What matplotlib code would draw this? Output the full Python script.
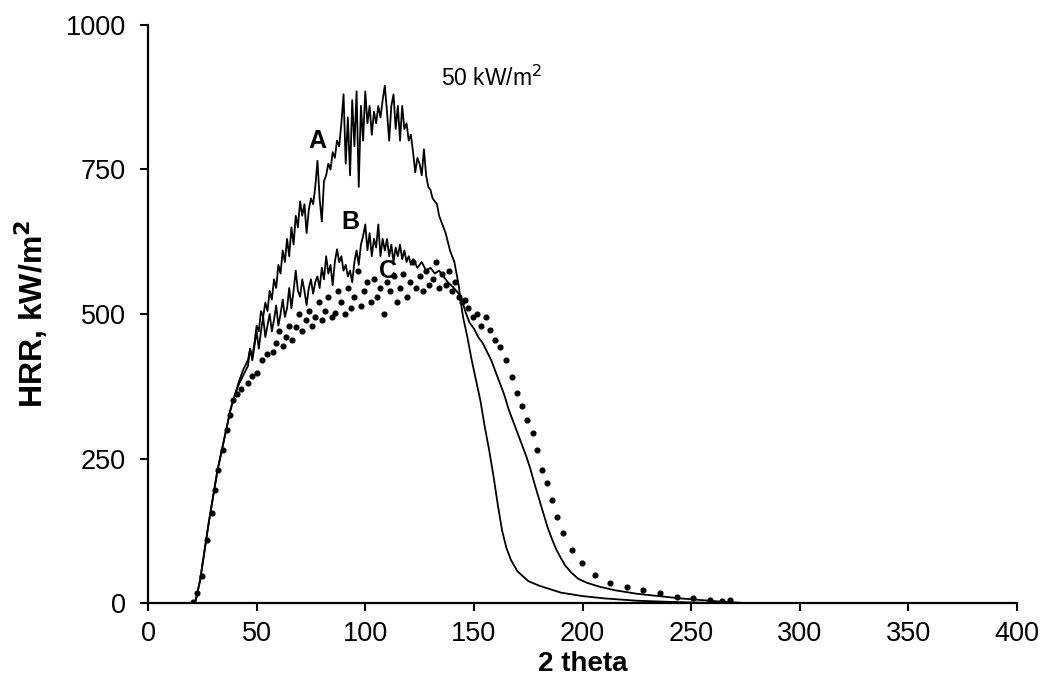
import numpy as np
import matplotlib
matplotlib.use("Agg")
import matplotlib.pyplot as plt

# curve A (solid, highest peak)
a_x = [0, 21, 22, 24, 26, 28, 30, 32, 34, 36, 38, 40, 42, 44, 46, 47, 48, 49, 50,
       51, 52, 53, 54, 55, 56, 57, 58, 59, 60, 61, 62, 63, 64, 65, 66, 67, 68, 69, 70,
       71, 72, 73, 74, 75, 76, 77, 78, 79, 80, 81, 82, 83, 84, 85, 86, 87, 88, 89, 90,
       91, 92, 93, 94, 95, 96, 97, 98, 99, 100, 101, 102, 103, 104, 105, 106, 107, 108,
       109, 110, 111, 112, 113, 114, 115, 116, 117, 118, 119, 120, 121, 122, 123, 124,
       125, 126, 127, 128, 129, 130, 131, 132, 133, 134, 135, 136, 137, 138, 139, 140,
       141, 142, 143, 144, 145, 147, 149, 151, 153, 155, 157, 159, 161, 163, 165, 167,
       170, 175, 180, 190, 200, 210, 225, 240, 260, 400]
a_y = [0, 0, 5, 40, 90, 140, 185, 230, 265, 300, 335, 360, 385, 405, 420, 440, 425, 450, 480,
       470, 505, 495, 520, 505, 540, 525, 560, 545, 585, 570, 610, 590, 630, 600, 650, 620, 670, 650, 695,
       670, 690, 640, 680, 700, 690, 720, 765, 700, 660, 730, 740, 760, 750, 780, 770, 800, 790, 830, 880,
       760, 840, 740, 870, 790, 885, 720, 860, 800, 885, 830, 860, 810, 850, 830, 860, 840, 870,
       895, 850, 800, 860, 880, 820, 860, 800, 860, 820, 830, 800, 810, 780, 745, 770,
       760, 740, 785, 740, 720, 715, 700, 695, 690, 670, 660, 650, 640, 625, 610, 600,
       590, 570, 550, 520, 495, 460, 420, 385, 350, 305, 265, 220, 170, 125, 95, 75,
       55, 38, 30, 18, 12, 8, 4, 2, 0, 0]

# curve B (solid, middle)
b_x = [0, 21, 22, 24, 26, 28, 30, 32, 34, 36, 38, 40, 42, 44, 46, 47, 48, 49, 50,
       51, 52, 53, 54, 55, 56, 57, 58, 59, 60, 61, 62, 63, 64, 65, 66, 67, 68, 69, 70,
       71, 72, 73, 74, 75, 76, 77, 78, 79, 80, 81, 82, 83, 84, 85, 86, 87, 88, 89, 90,
       91, 92, 93, 94, 95, 96, 97, 98, 99, 100, 101, 102, 103, 104, 105, 106, 107, 108,
       109, 110, 111, 112, 113, 114, 115, 116, 117, 118, 119, 120, 121, 122, 124, 126,
       128, 130, 132, 134, 136, 138, 140, 142, 144, 146, 148, 150, 152, 154, 156, 158,
       160, 162, 164, 166, 168, 170, 172, 174, 176, 178, 180, 182, 184, 186, 188, 190,
       192, 195, 198, 202, 208, 215, 225, 235, 245, 255, 265, 275, 400]
b_y = [0, 0, 5, 40, 90, 140, 185, 230, 265, 300, 335, 360, 380, 395, 410, 440, 420, 445, 470,
       440, 470, 495, 460, 480, 500, 470, 490, 515, 480, 500, 525, 495, 510, 545, 510, 540, 575, 540, 530,
       560, 540, 515, 545, 560, 535, 555, 565, 545, 580, 560, 600, 570, 585, 550, 590, 612, 590, 600, 575,
       585, 565, 575, 555, 590, 610, 585, 620, 635, 655, 610, 640, 600, 630, 615, 655, 600, 630,
       610, 630, 600, 620, 590, 615, 600, 620, 595, 610, 590, 600, 585, 595, 580, 590,
       575, 580, 570, 575, 565, 555, 548, 540, 530, 505, 485, 475, 460, 450, 435, 420,
       400, 380, 360, 335, 315, 295, 275, 255, 232, 205, 180, 155, 130, 110, 92, 78,
       65, 52, 42, 35, 28, 22, 16, 12, 8, 5, 2, 0, 0]

# curve C (dotted)
c_x = [20.5, 22.4, 24.7, 27, 29.3, 31, 32.4, 34.3, 36.2, 37.8, 39.3, 41, 43, 46.2, 48, 50,
       52.3, 55, 57.7, 59, 60.5, 62, 63.5, 65, 66.5, 68, 69.5, 71, 72.5, 74, 75.5, 77,
       78.5, 80, 81.5, 83, 84.5, 86, 87.5, 89, 90.5, 92, 93.5, 95, 96.5, 98, 99.5, 101,
       102.5, 104, 105.5, 107, 108.5, 110, 111.5, 113, 114.5, 116, 117.5, 119, 120.5, 122,
       123.5, 125, 126.5, 128, 129.5, 131, 132.5, 134, 135.5, 137, 138.5, 140, 141.5, 143,
       144.5, 146, 147.5, 149.6, 151.5, 153.5, 155.5, 157.4, 159.5, 162, 165, 167.4, 169.7,
       172, 174.3, 177.3, 178.9, 181.2, 183.5, 185.8, 188.1, 191.2, 195, 199.6, 205.7,
       212.7, 220.3, 227.9, 235.7, 243.4, 251, 258.7, 264, 268]
c_y = [2, 17, 46, 109, 155, 195, 230, 265, 299, 325, 351, 362, 370, 380, 392, 398,
       420, 430, 435, 450, 470, 445, 460, 480, 455, 478, 500, 470, 490, 505, 480, 495,
       520, 490, 505, 530, 495, 501, 540, 520, 500, 545, 510, 530, 575, 513, 540, 555,
       520, 560, 530, 545, 500, 555, 540, 565, 520, 545, 570, 530, 555, 590,
       545, 565, 540, 575, 550, 560, 590, 545, 570, 550, 575, 540, 555, 530,
       520, 525, 510, 495, 500, 480, 495, 472, 455, 443, 420, 391, 363,
       340, 317, 294, 265, 230, 207, 178, 149, 121, 92, 69, 48,
       35, 28, 22, 17, 11, 8, 5, 4, 6]

x_ticks = [0, 50, 100, 150, 200, 250, 300, 350, 400]
y_ticks = [0, 250, 500, 750, 1000]

plt.rcParams['font.family'] = ['Liberation Sans', 'DejaVu Sans']

fig = plt.figure(figsize=(10.46, 6.96), dpi=100)
ax = fig.add_axes([0.1415, 0.1336, 0.8308, 0.8305])

ax.plot(a_x, a_y, color='black', lw=1.3)
ax.plot(b_x, b_y, color='black', lw=1.3)
ax.plot(c_x, c_y, linestyle='none', marker='o', markersize=3.4, color='black')

ax.text(78, 800, 'A', fontsize=18, fontweight='bold', ha='center', va='center')
ax.text(93, 660, 'B', fontsize=18, fontweight='bold', ha='center', va='center')
ax.text(110.5, 575, 'C', fontsize=18, fontweight='bold', ha='center', va='center')
ax.text(135, 908, '50 kW/m$^2$', fontsize=16.5, ha='left', va='center')

ax.set_xlim(0, 400)
ax.set_ylim(0, 1000)
ax.set_xticks(x_ticks)
ax.set_yticks(y_ticks)
ax.tick_params(direction='out', length=6, width=1.5, labelsize=19.5)
ax.tick_params(axis='x', pad=7)
ax.tick_params(axis='y', pad=10)
for s in ['top', 'right']:
    ax.spines[s].set_visible(False)
for s in ['left', 'bottom']:
    ax.spines[s].set_linewidth(1.6)

ax.set_xlabel('2 theta', fontsize=20, fontweight='bold', labelpad=3)
ax.set_ylabel('HRR, kW/m$^\\mathbf{2}$', fontsize=23, fontweight='bold', labelpad=11)

fig.savefig('out.png', dpi=100)
